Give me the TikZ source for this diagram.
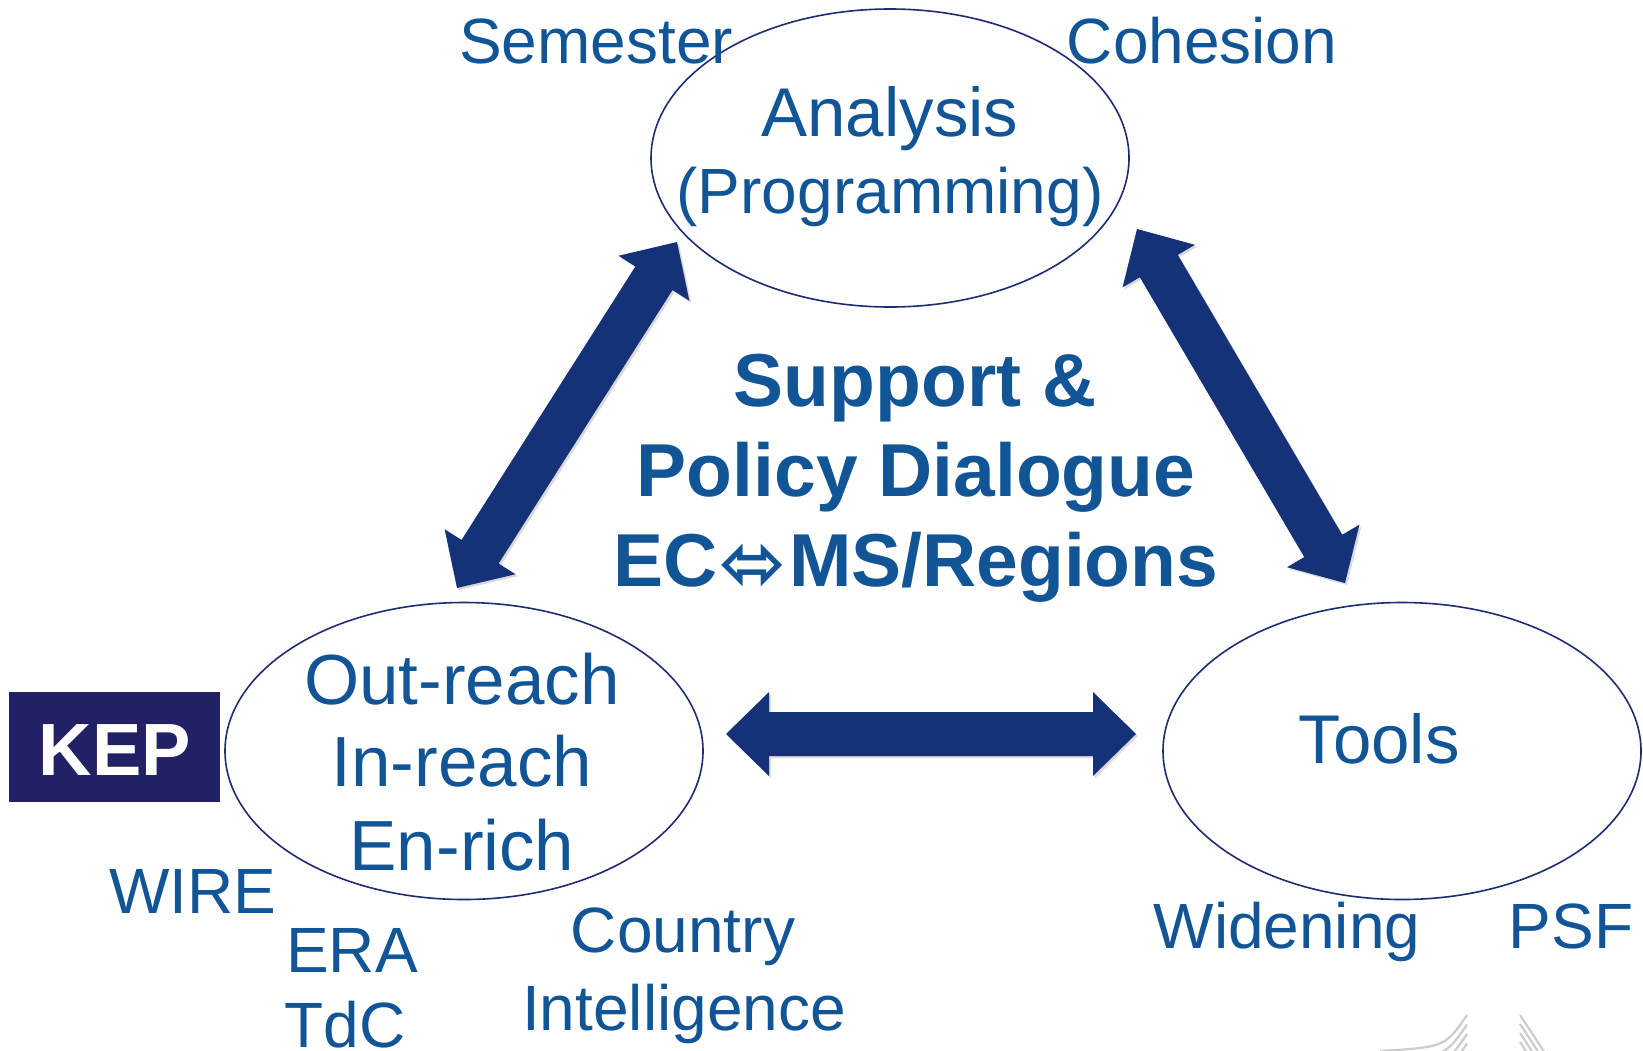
\documentclass[tikz,border=0pt]{standalone}
\usepackage{fontspec}
\setmainfont{Liberation Sans}
\newfontfamily\dejavu{DejaVu Sans}
\usetikzlibrary{calc,shapes.geometric}
\definecolor{txtblue}{RGB}{17,85,150}
\definecolor{arrnavy}{RGB}{21,49,119}
\definecolor{ellnavy}{RGB}{30,45,115}
\definecolor{kepbg}{RGB}{35,33,102}
\definecolor{logogrey}{RGB}{205,205,205}
\newcommand\fatarrow[3][]{%
  \fill[#1] (#2) -- ($(#2)!43pt!(#3)!42pt!90:(#3)$) -- ($(#2)!43pt!(#3)!22pt!90:(#3)$)
    -- ($(#3)!43pt!(#2)!22pt!-90:(#2)$) -- ($(#3)!43pt!(#2)!42pt!-90:(#2)$) -- (#3)
    -- ($(#3)!43pt!(#2)!42pt!90:(#2)$) -- ($(#3)!43pt!(#2)!22pt!90:(#2)$)
    -- ($(#2)!43pt!(#3)!22pt!-90:(#3)$) -- ($(#2)!43pt!(#3)!42pt!-90:(#3)$) -- cycle;}
\tikzset{
  lab/.style={anchor=base, text=txtblue, inner sep=0pt, font=\fontsize{64}{64}\selectfont},
  mid/.style={anchor=base, text=txtblue, inner sep=0pt, font=\fontsize{75}{75}\selectfont\bfseries},
  oval/.style={ellipse, draw=ellnavy, fill=white, line width=1.6pt, inner sep=0pt},
  arrowfill/.style={fill=arrnavy},
  arrowshadow/.style={fill=black, opacity=0.15},
  logo/.style={draw=logogrey, line width=2.2pt}
}
\begin{document}
\begin{tikzpicture}[x=1pt,y=-1pt]
\useasboundingbox (0,0) rectangle (1643,1050);
\fill[white] (0,0) rectangle (1643,1050);
% ellipses
\node[oval, minimum width=478pt, minimum height=298pt] (ana) at (890,158) {};
\node[oval, minimum width=478pt, minimum height=297pt] (out) at (464,751) {};
\node[oval, minimum width=478pt, minimum height=297pt] (tools) at (1402,751) {};
% arrow end points
\coordinate (lb) at (457,588);
\coordinate (lt) at (677,242);
\coordinate (rt) at (1137,229);
\coordinate (rb) at (1345,583);
\coordinate (hl) at (726,734);
\coordinate (hr) at (1136,734);
\begin{scope}[transform canvas={shift={(2pt,-2pt)}}]
\fatarrow[arrowshadow]{lb}{lt}
\fatarrow[arrowshadow]{rt}{rb}
\fatarrow[arrowshadow]{hl}{hr}
\end{scope}
\fatarrow[arrowfill]{lb}{lt}
\fatarrow[arrowfill]{rt}{rb}
\fatarrow[arrowfill]{hl}{hr}
% ellipse texts
\node[lab, font=\fontsize{69}{69}\selectfont] (anat) at (890,136) {Analysis};
\node[lab] (prog) at (890,213) {(Programming)};
\node[lab, font=\fontsize{71}{71}\selectfont] (o1) at (462,704) {Out-reach};
\node[lab, font=\fontsize{71}{71}\selectfont] (o2) at (462,786) {In-reach};
\node[lab, font=\fontsize{71}{71}\selectfont] (o3) at (462,870) {En-rich};
\node[lab, font=\fontsize{69}{69}\selectfont] (toolst) at (1379,763) {Tools};
% outer labels
\node[lab] (sem) at (596,63) {Semester};
\node[lab] (coh) at (1202,63) {Cohesion};
\node[lab] (wire) at (193,913) {WIRE};
\node[lab] (era) at (352,972) {ERA};
\node[lab] (tdc) at (345,1047) {TdC};
\node[lab] (ctry) at (683,952) {Country};
\node[lab] (intel) at (684,1030) {Intelligence};
\node[lab] (wid) at (1287,948) {Widening};
\node[lab] (psf) at (1571,948) {PSF};
% centre
\node[mid] (sup) at (915,406) {Support \&};
\node[mid] (pol) at (916,496) {Policy Dialogue};
\node[mid] (ec) at (916,586) {EC\kern2pt{\dejavu\fontsize{80}{80}\selectfont\raisebox{-4pt}{⬄}}\kern2pt MS/Regions};
% KEP
\node[fill=kepbg, minimum width=211pt, minimum height=110pt, inner sep=0pt, anchor=north west] (kep) at (9,692) {};
\node[anchor=base, text=white, inner sep=0pt, font=\fontsize{74}{74}\selectfont\bfseries] (kept) at (115,775) {KEP};
% logo fragment
\begin{scope}
\clip (1300,990) rectangle (1643,1050);
\foreach \k in {0,...,3} {
  \draw[logo, shift={(0,{9.5*\k})}] (1380,1051) .. controls (1445,1047) .. (1467,1015);
  \draw[logo] (1520,{1015+9*\k}) -- ({1520+(37-9*\k)*0.657},1052);
}
\end{scope}
\end{tikzpicture}
\end{document}
